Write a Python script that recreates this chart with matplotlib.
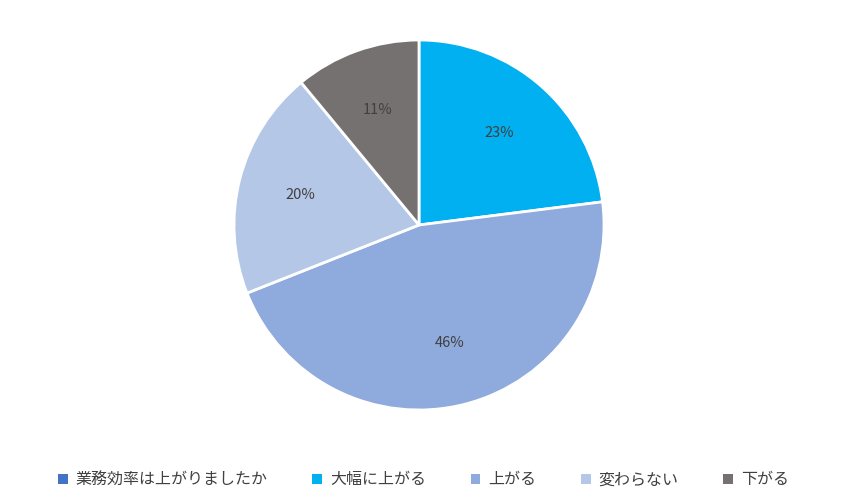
import matplotlib
matplotlib.use("Agg")
import matplotlib.pyplot as plt
from matplotlib.patches import Patch
import numpy as np

categories = ["業務効率は上がりましたか", "大幅に上がる", "上がる", "変わらない", "下がる"]
values = [0, 23, 46, 20, 11]
colors = ["#4472C4", "#00B0F0", "#8FAADC", "#B4C7E7", "#767171"]

plt.rcParams["font.family"] = "Noto Sans CJK JP"
fig = plt.figure(figsize=(8.47, 5.04), dpi=100)
ax = fig.add_axes([(419 - 185) / 847, (504 - 225 - 185) / 504, 370 / 847, 370 / 504])

pv = [v for v in values if v > 0]
pc = [c for v, c in zip(values, colors) if v > 0]
wedges, texts = ax.pie(pv, colors=pc, startangle=90, counterclock=False,
                       wedgeprops=dict(edgecolor="white", linewidth=2))
for w, v in zip(wedges, pv):
    ang = np.deg2rad((w.theta1 + w.theta2) / 2)
    ax.text(0.66 * np.cos(ang), 0.66 * np.sin(ang), f"{v}%", ha="center", va="center",
            fontsize=10.5, color="#404040")
ax.set_xlim(-1, 1)
ax.set_ylim(-1, 1)
ax.set_aspect("equal")

handles = [Patch(facecolor=c, edgecolor="none") for c in colors]
fig.legend(handles, categories, loc="center", bbox_to_anchor=(0.5, 0.048), ncol=5,
           frameon=False, fontsize=11.5, handlelength=0.6, handleheight=0.6,
           columnspacing=2.8, handletextpad=0.5, labelcolor="#404040")
fig.savefig("out.png", dpi=100)
